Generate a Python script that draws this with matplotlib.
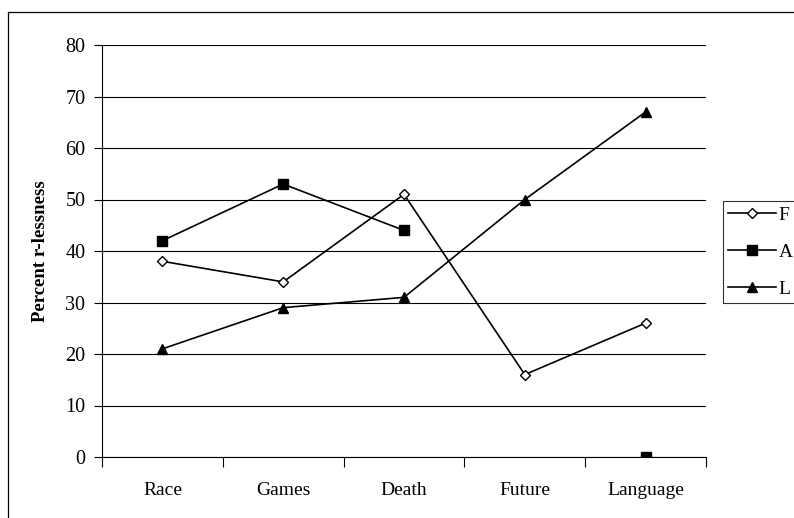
import matplotlib.pyplot as plt
import numpy as np
from matplotlib.lines import Line2D

# ---------------- Data -----------------
categories = ["Race", "Games", "Death", "Future", "Language"]
f_values = [38, 34, 51, 16, 26]
a_values = [42, 53, 44, np.nan, 0]
l_values = [21, 29, 31, 50, 67]
y_ticks = [0, 10, 20, 30, 40, 50, 60, 70, 80]

plt.rcParams['font.family'] = ['Liberation Serif', 'DejaVu Serif']

fig = plt.figure(figsize=(7.94, 5.18), dpi=100)
ax = fig.add_axes([102/794, (518-457)/518, 604/794, 412/518])

x = np.arange(len(categories))

ax.plot(x, f_values, color='black', lw=1.2, marker='D', ms=5.5,
        mfc='white', mec='black', mew=1.0, label='F', zorder=3)
ax.plot(x, a_values, color='black', lw=1.2, marker='s', ms=6.5,
        mfc='black', mec='black', label='A', zorder=3)
ax.plot(x, l_values, color='black', lw=1.2, marker='^', ms=7.5,
        mfc='black', mec='black', label='L', zorder=3)

# ---------------- Axes styling -----------------
ax.set_xlim(-0.5, len(categories) - 0.5)
ax.set_ylim(0, 80)
ax.set_yticks(y_ticks)
ax.set_xticks(x)
ax.set_xticklabels(categories, fontsize=14)
ax.set_xticks(np.arange(-0.5, len(categories)), minor=True)
ax.tick_params(axis='x', which='major', length=0, pad=18)
ax.tick_params(axis='x', which='minor', length=7, width=0.8, direction='out')
ax.tick_params(axis='y', length=6, width=0.8, direction='out', labelsize=14.5, pad=6)

ax.grid(axis='y', color='black', lw=0.8)
ax.set_axisbelow(True)
for side in ['top', 'right']:
    ax.spines[side].set_visible(False)
for side in ['left', 'bottom']:
    ax.spines[side].set_linewidth(0.8)

ax.set_ylabel("Percent r-lessness", fontsize=13.5, fontweight='bold')
ax.yaxis.set_label_coords(-0.088, 0.5)

# legend on the right
leg = fig.legend(loc='center left', bbox_to_anchor=(723/794, (518-252)/518),
                 frameon=True, fancybox=False, fontsize=14, handlelength=2.5,
                 handletextpad=0.1, borderpad=0.25, labelspacing=1.0, borderaxespad=0)
leg.get_frame().set_edgecolor('black')
leg.get_frame().set_linewidth(0.8)

# outer chart frame (top and left edges visible)
fig.add_artist(Line2D([8/794, 1.0], [1 - 12/518, 1 - 12/518], color='black', lw=0.9,
                      transform=fig.transFigure))
fig.add_artist(Line2D([8/794, 8/794], [0, 1 - 12/518], color='black', lw=0.9,
                      transform=fig.transFigure))

fig.savefig("out.png", dpi=100)
